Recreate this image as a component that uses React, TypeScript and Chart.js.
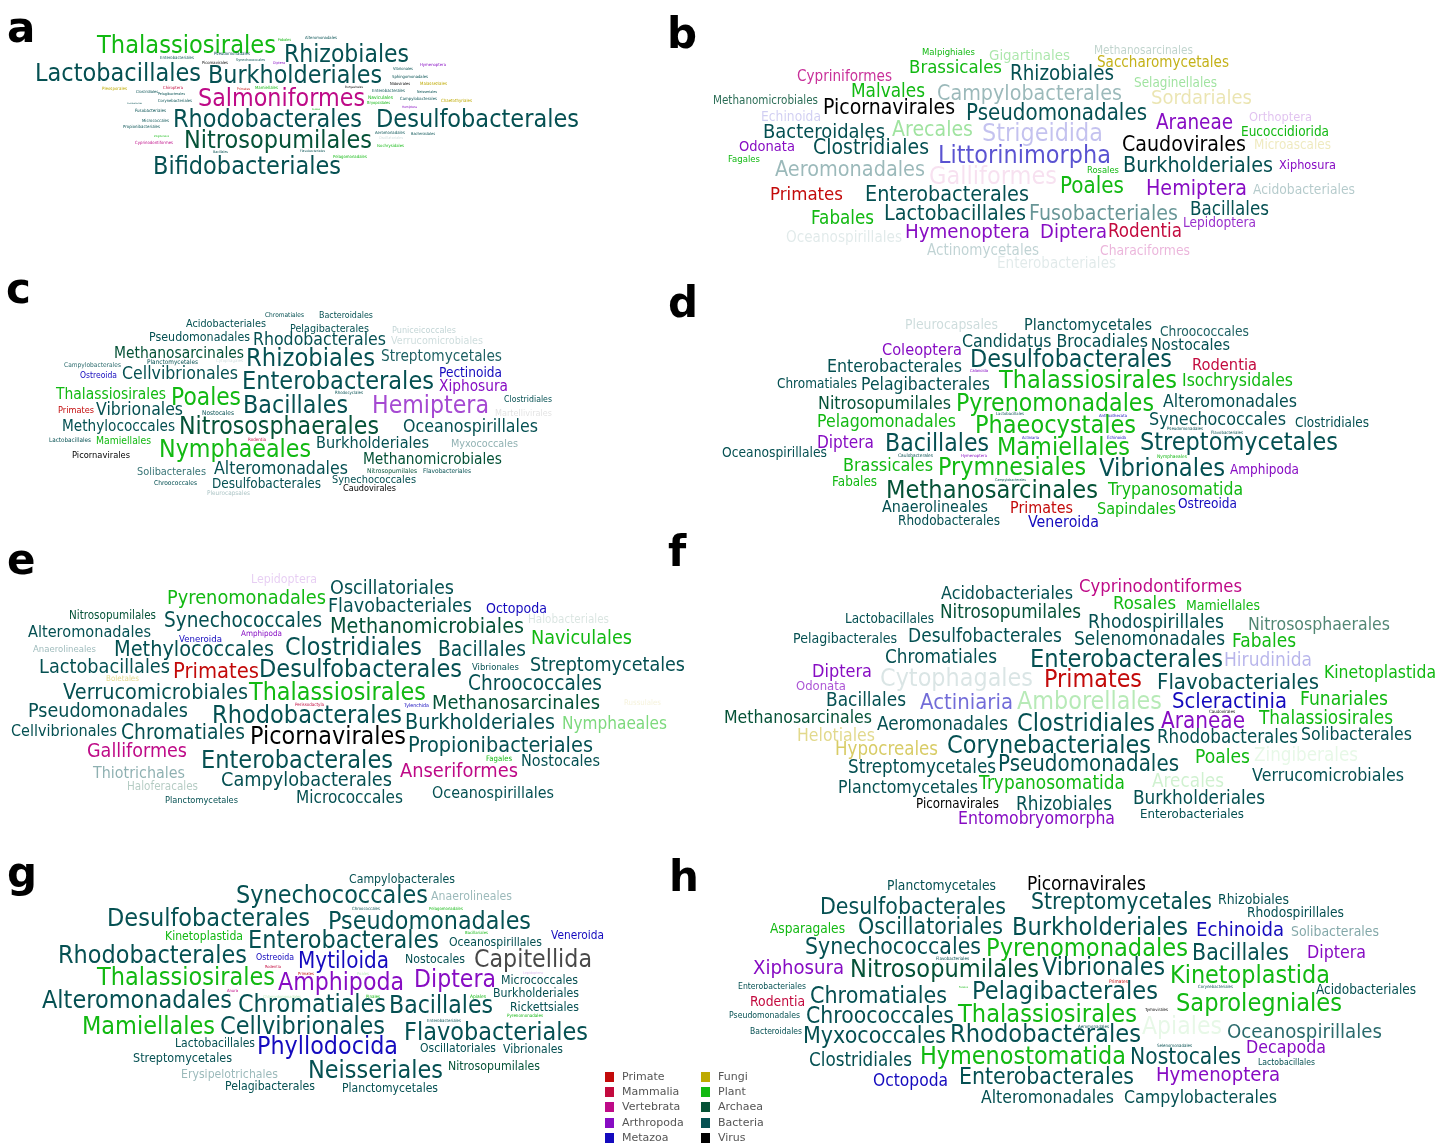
import React, { useEffect, useRef } from "react";
import { Chart, registerables } from "chart.js";
Chart.register(...registerables);

// [label, xStart, xEnd, baseline, group, opacity]
type Word = [string, number, number, number, string, number?];

const groups = ["Primate", "Mammalia", "Vertebrata", "Arthropoda", "Metazoa", "Fungi", "Plant", "Archaea", "Bacteria", "Virus"];
const groupRGB: Record<string, number[]> = {
  Pri: [195, 10, 10], Mam: [195, 10, 62], Ver: [190, 10, 135], Art: [135, 12, 195], Met: [20, 10, 190],
  Fun: [190, 170, 0], Pla: [18, 185, 18], Arc: [5, 82, 55], Bac: [5, 80, 82], Vir: [0, 0, 0],
};
const legendKeys = ["Pri", "Mam", "Ver", "Art", "Met", "Fun", "Pla", "Arc", "Bac", "Vir"];

const wordsA: Word[] = [
  ["Thalassiosirales", 97, 276, 53, "Pla"], ["Rhizobiales", 284, 409, 62, "Bac"], ["Lactobacillales", 35, 201, 81, "Bac"],
  ["Burkholderiales", 208, 382, 83, "Bac"], ["Salmoniformes", 198, 365, 106, "Ver"], ["Rhodobacterales", 173, 362, 127, "Bac"],
  ["Desulfobacterales", 376, 579, 127, "Bac"], ["Nitrosopumilales", 184, 372, 148, "Arc"], ["Bifidobacteriales", 153, 341, 174, "Bac"],
  ["Fabales", 278, 291, 41, "Pla"], ["Alteromonadales", 305, 337, 39, "Bac"], ["Enterobacteriales", 160, 194, 59, "Bac"],
  ["Pseudomonadales", 214, 250, 55, "Bac"], ["Synechococcales", 236, 265, 61, "Bac"], ["Picornavirales", 202, 228, 64, "Vir"],
  ["Diptera", 273, 285, 64, "Art"], ["Vibrionales", 393, 413, 70, "Bac"], ["Hymenoptera", 420, 446, 66, "Art"],
  ["Sphingomonadales", 392, 428, 78, "Bac"], ["Nidovirales", 390, 410, 85, "Vir"], ["Malasseziales", 420, 447, 85, "Fun"],
  ["Pleosporales", 102, 127, 90, "Fun"], ["Chiroptera", 163, 183, 89, "Mam"], ["Primates", 237, 250, 90, "Pri"],
  ["Mamiellales", 255, 278, 89, "Pla"], ["Clostridiales", 136, 158, 93, "Bac"], ["Pelagibacterales", 158, 185, 95, "Bac"],
  ["Bunyavirales", 345, 363, 88, "Vir"], ["Enterobacterales", 372, 405, 92, "Bac"], ["Neisseriales", 417, 437, 93, "Bac"],
  ["Caulobacterales", 127, 142, 104, "Bac"], ["Corynebacteriales", 158, 192, 102, "Bac"], ["Naviculales", 368, 393, 99, "Pla"],
  ["Campylobacterales", 400, 437, 100, "Bac"], ["Chaetothyriales", 441, 472, 102, "Fun"], ["Bryopsidales", 367, 390, 104, "Pla"],
  ["Fusobacteriales", 135, 166, 112, "Bac"], ["Rosales", 312, 320, 110, "Pla"], ["Hemiptera", 402, 417, 108, "Art"],
  ["Micrococcales", 142, 169, 122, "Bac"], ["Propionibacteriales", 123, 160, 128, "Bac"], ["Aeromonadales", 375, 405, 134, "Bac"],
  ["Bacteroidales", 411, 435, 135, "Bac"], ["Oscillatoriales", 379, 403, 139, "Bac", 0.2], ["Zingiberales", 154, 169, 137, "Pla"],
  ["Cyprinodontiformes", 135, 173, 144, "Ver"], ["Isochrysidales", 377, 404, 147, "Pla"], ["Flavobacteriales", 300, 325, 152, "Bac"],
  ["Bacillales", 213, 228, 153, "Bac"], ["Pelagomonadales", 333, 367, 158, "Pla"],
];

const wordsB: Word[] = [
  ["Malpighiales", 922, 975, 55, "Pla"], ["Gigartinales", 989, 1070, 60, "Pla", 0.35], ["Methanosarcinales", 1094, 1193, 54, "Arc", 0.25],
  ["Brassicales", 909, 1002, 73, "Pla"], ["Saccharomycetales", 1097, 1229, 67, "Fun", 0.9], ["Cypriniformes", 797, 892, 81, "Ver", 0.85],
  ["Rhizobiales", 1010, 1114, 80, "Bac"], ["Selaginellales", 1134, 1217, 87, "Pla", 0.4], ["Malvales", 851, 925, 97, "Pla"],
  ["Campylobacterales", 937, 1122, 100, "Bac", 0.4], ["Sordariales", 1151, 1252, 104, "Fun", 0.3], ["Methanomicrobiales", 713, 818, 104, "Arc", 0.85],
  ["Picornavirales", 823, 955, 114, "Vir"], ["Pseudomonadales", 966, 1147, 120, "Bac"], ["Echinoida", 761, 821, 121, "Met", 0.2],
  ["Orthoptera", 1249, 1312, 121, "Art", 0.25], ["Araneae", 1156, 1233, 129, "Art"], ["Bacteroidales", 763, 885, 138, "Bac"],
  ["Arecales", 892, 973, 136, "Pla", 0.4], ["Strigeidida", 982, 1103, 141, "Met", 0.25], ["Eucoccidiorida", 1241, 1329, 136, "Pla"],
  ["Odonata", 739, 795, 151, "Art"], ["Clostridiales", 813, 929, 154, "Bac"], ["Littorinimorpha", 938, 1111, 163, "Met", 0.7],
  ["Caudovirales", 1122, 1246, 151, "Vir"], ["Microascales", 1254, 1331, 149, "Fun", 0.25], ["Fagales", 728, 760, 162, "Pla"],
  ["Aeromonadales", 775, 925, 176, "Bac", 0.4], ["Galliformes", 929, 1057, 184, "Ver", 0.12], ["Rosales", 1087, 1119, 173, "Pla"],
  ["Burkholderiales", 1123, 1273, 172, "Bac"], ["Xiphosura", 1279, 1336, 169, "Art"], ["Poales", 1060, 1124, 193, "Pla"],
  ["Primates", 770, 843, 200, "Pri"], ["Enterobacterales", 865, 1029, 201, "Bac"], ["Hemiptera", 1146, 1247, 195, "Art"],
  ["Acidobacteriales", 1253, 1355, 194, "Bac", 0.3], ["Fabales", 811, 874, 224, "Pla"], ["Lactobacillales", 884, 1026, 220, "Bac"],
  ["Fusobacteriales", 1029, 1178, 220, "Bac", 0.6], ["Bacillales", 1190, 1269, 215, "Bac"], ["Lepidoptera", 1183, 1256, 227, "Art", 0.85],
  ["Oceanospirillales", 786, 902, 242, "Bac", 0.12], ["Hymenoptera", 905, 1030, 238, "Art"], ["Diptera", 1040, 1107, 238, "Art"],
  ["Rodentia", 1108, 1182, 237, "Mam"], ["Actinomycetales", 927, 1039, 255, "Bac", 0.25], ["Characiformes", 1100, 1190, 255, "Ver", 0.3],
  ["Enterobacteriales", 997, 1116, 268, "Bac", 0.12],
];

const wordsC: Word[] = [
  ["Chromatiales", 265, 304, 317, "Bac"], ["Bacteroidales", 319, 373, 318, "Bac"], ["Acidobacteriales", 186, 266, 327, "Bac"],
  ["Pelagibacterales", 290, 369, 332, "Bac"], ["Puniceicoccales", 392, 456, 333, "Bac", 0.25], ["Pseudomonadales", 149, 250, 341, "Bac"],
  ["Rhodobacterales", 253, 386, 345, "Bac"], ["Verrucomicrobiales", 391, 483, 344, "Bac", 0.2], ["Methanosarcinales", 114, 244, 358, "Arc"],
  ["Rhizobiales", 246, 375, 366, "Bac"], ["Streptomycetales", 381, 502, 361, "Bac", 0.9], ["Campylobacterales", 64, 121, 367, "Bac", 0.85],
  ["Planctomycetales", 147, 198, 364, "Bac"], ["Cytophagales", 216, 243, 362, "Bac", 0.2], ["Ostreoida", 80, 117, 378, "Met"],
  ["Cellvibrionales", 122, 238, 379, "Bac"], ["Enterobacterales", 242, 434, 389, "Bac"], ["Pectinoida", 439, 502, 377, "Met"],
  ["Xiphosura", 439, 508, 391, "Art"], ["Thalassiosirales", 56, 166, 399, "Pla"], ["Poales", 171, 241, 405, "Pla"],
  ["Rhodocyclales", 335, 363, 394, "Bac"], ["Bacillales", 243, 348, 413, "Bac"], ["Hemiptera", 372, 489, 413, "Art", 0.75],
  ["Clostridiales", 504, 552, 402, "Bac"], ["Primates", 58, 94, 413, "Pri"], ["Vibrionales", 96, 183, 415, "Bac"],
  ["Nostocales", 202, 234, 415, "Bac"], ["Martellivirales", 495, 552, 416, "Vir", 0.12], ["Methylococcales", 62, 175, 431, "Bac"],
  ["Nitrososphaerales", 179, 379, 434, "Arc"], ["Oceanospirillales", 403, 538, 432, "Bac"], ["Lactobacillales", 49, 91, 442, "Bac"],
  ["Mamiellales", 96, 151, 444, "Pla"], ["Rodentia", 248, 266, 441, "Mam"], ["Nymphaeales", 159, 311, 457, "Pla"],
  ["Burkholderiales", 316, 429, 448, "Bac"], ["Myxococcales", 451, 518, 447, "Bac", 0.45], ["Picornavirales", 72, 130, 458, "Vir"],
  ["Methanomicrobiales", 363, 502, 464, "Arc"], ["Solibacterales", 137, 206, 475, "Bac", 0.8], ["Alteromonadales", 214, 348, 474, "Bac"],
  ["Nitrosopumilales", 367, 417, 473, "Arc"], ["Flavobacteriales", 423, 471, 473, "Bac"], ["Chroococcales", 154, 197, 485, "Bac"],
  ["Desulfobacterales", 212, 321, 488, "Bac"], ["Synechococcales", 332, 416, 483, "Bac"], ["Caudovirales", 343, 396, 491, "Vir"],
  ["Pleurocapsales", 207, 250, 495, "Bac", 0.35],
];

const wordsD: Word[] = [
  ["Pleurocapsales", 905, 998, 329, "Bac", 0.2], ["Planctomycetales", 1024, 1152, 330, "Bac"], ["Chroococcales", 1160, 1249, 336, "Bac", 0.9],
  ["Candidatus Brocadiales", 962, 1148, 347, "Bac"], ["Nostocales", 1151, 1230, 350, "Bac"], ["Coleoptera", 882, 962, 355, "Art"],
  ["Desulfobacterales", 970, 1172, 367, "Bac"], ["Enterobacterales", 827, 962, 372, "Bac"], ["Rodentia", 1192, 1257, 370, "Mam"],
  ["Calanoida", 970, 988, 372, "Art"], ["Chromatiales", 777, 857, 388, "Bac"], ["Pelagibacterales", 861, 990, 390, "Bac"],
  ["Thalassiosirales", 999, 1177, 388, "Pla"], ["Isochrysidales", 1182, 1293, 386, "Pla"], ["Nitrosopumilales", 818, 951, 409, "Arc"],
  ["Pyrenomonadales", 956, 1154, 411, "Pla"], ["Alteromonadales", 1163, 1297, 407, "Bac"], ["Lactobacillales", 996, 1024, 415, "Bac"],
  ["Anthoathecata", 1099, 1127, 417, "Met"], ["Pelagomonadales", 817, 956, 427, "Pla"], ["Phaeocystales", 975, 1136, 433, "Pla"],
  ["Synechococcales", 1149, 1286, 425, "Bac"], ["Clostridiales", 1295, 1369, 427, "Bac"], ["Pseudomonadales", 1167, 1203, 430, "Bac"],
  ["Flavobacteriales", 1211, 1243, 434, "Bac"], ["Diptera", 817, 874, 448, "Art"], ["Bacillales", 885, 989, 451, "Bac"],
  ["Actiniaria", 1022, 1039, 439, "Met"], ["Echinoida", 1107, 1126, 439, "Met"], ["Mamiellales", 997, 1130, 455, "Pla"],
  ["Streptomycetales", 1140, 1338, 450, "Bac"], ["Oceanospirillales", 722, 827, 457, "Bac"], ["Caulobacterales", 898, 933, 457, "Bac"],
  ["Hymenoptera", 961, 987, 457, "Art"], ["Nymphaeales", 1157, 1187, 458, "Pla"], ["Brassicales", 843, 933, 471, "Pla"],
  ["Prymnesiales", 938, 1086, 475, "Pla"], ["Vibrionales", 1099, 1225, 476, "Bac"], ["Amphipoda", 1230, 1299, 474, "Art"],
  ["Fabales", 832, 877, 486, "Pla"], ["Campylobacterales", 995, 1026, 481, "Bac"], ["Methanosarcinales", 886, 1098, 498, "Arc"],
  ["Trypanosomatida", 1108, 1243, 495, "Pla"], ["Anaerolineales", 882, 988, 512, "Bac"], ["Primates", 1010, 1073, 513, "Pri"],
  ["Sapindales", 1097, 1176, 514, "Pla"], ["Ostreoida", 1178, 1237, 508, "Met"], ["Rhodobacterales", 898, 1000, 525, "Bac"],
  ["Veneroida", 1028, 1099, 527, "Met"],
];

const wordsE: Word[] = [
  ["Lepidoptera", 251, 317, 583, "Art", 0.2], ["Oscillatoriales", 330, 454, 594, "Bac"], ["Pyrenomonadales", 167, 326, 604, "Pla"],
  ["Flavobacteriales", 328, 472, 612, "Bac"], ["Octopoda", 486, 547, 613, "Met"], ["Nitrosopumilales", 69, 156, 619, "Arc"],
  ["Synechococcales", 164, 322, 627, "Bac"], ["Halobacteriales", 528, 609, 623, "Arc", 0.15], ["Methanomicrobiales", 330, 524, 633, "Arc"],
  ["Alteromonadales", 28, 151, 637, "Bac"], ["Veneroida", 179, 222, 642, "Met"], ["Amphipoda", 241, 282, 636, "Art"],
  ["Naviculales", 531, 632, 644, "Pla"], ["Anaerolineales", 33, 96, 652, "Bac", 0.4], ["Methylococcales", 114, 274, 656, "Bac"],
  ["Clostridiales", 285, 422, 655, "Bac"], ["Bacillales", 438, 526, 656, "Bac"], ["Lactobacillales", 39, 170, 673, "Bac"],
  ["Primates", 173, 259, 678, "Pri"], ["Desulfobacterales", 259, 462, 677, "Bac"], ["Vibrionales", 472, 519, 670, "Bac"],
  ["Streptomycetales", 530, 685, 671, "Bac"], ["Boletales", 106, 139, 681, "Fun", 0.45], ["Chroococcales", 468, 602, 690, "Bac"],
  ["Verrucomicrobiales", 63, 248, 699, "Bac"], ["Thalassiosirales", 249, 426, 700, "Pla"], ["Methanosarcinales", 432, 600, 709, "Arc"],
  ["Russulales", 624, 661, 705, "Fun", 0.15], ["Perissodactyla", 295, 324, 706, "Mam"], ["Tylenchida", 404, 429, 707, "Met"],
  ["Pseudomonadales", 28, 188, 717, "Bac"], ["Rhodobacterales", 212, 402, 723, "Bac"], ["Burkholderiales", 405, 555, 729, "Bac"],
  ["Nymphaeales", 562, 667, 729, "Pla", 0.55], ["Cellvibrionales", 11, 117, 736, "Bac"], ["Chromatiales", 121, 245, 739, "Bac"],
  ["Picornavirales", 250, 406, 744, "Vir"], ["Galliformes", 87, 187, 757, "Ver"], ["Propionibacteriales", 408, 593, 752, "Bac"],
  ["Enterobacterales", 201, 393, 768, "Bac"], ["Fagales", 486, 512, 761, "Pla"], ["Nostocales", 521, 600, 766, "Bac"],
  ["Anseriformes", 400, 518, 777, "Ver"], ["Thiotrichales", 93, 185, 778, "Bac", 0.45], ["Campylobacterales", 221, 392, 786, "Bac"],
  ["Haloferacales", 127, 198, 790, "Arc", 0.3], ["Planctomycetales", 165, 238, 803, "Bac"], ["Micrococcales", 296, 403, 803, "Bac"],
  ["Oceanospirillales", 432, 554, 798, "Bac"],
];

const wordsF: Word[] = [
  ["Acidobacteriales", 941, 1073, 599, "Bac"], ["Cyprinodontiformes", 1079, 1242, 592, "Ver"], ["Rosales", 1113, 1176, 609, "Pla"],
  ["Mamiellales", 1186, 1260, 610, "Pla"], ["Lactobacillales", 845, 934, 623, "Bac"], ["Nitrosopumilales", 940, 1081, 618, "Arc"],
  ["Rhodospirillales", 1088, 1224, 628, "Bac"], ["Nitrososphaerales", 1248, 1390, 630, "Arc", 0.7], ["Pelagibacterales", 793, 897, 643, "Bac"],
  ["Desulfobacterales", 908, 1062, 642, "Bac"], ["Selenomonadales", 1074, 1225, 645, "Bac"], ["Fabales", 1232, 1296, 647, "Pla"],
  ["Chromatiales", 885, 997, 663, "Bac"], ["Enterobacterales", 1030, 1223, 667, "Bac"], ["Hirudinida", 1224, 1312, 666, "Met", 0.3],
  ["Diptera", 812, 872, 677, "Art"], ["Cytophagales", 880, 1033, 686, "Bac", 0.15], ["Primates", 1044, 1142, 687, "Pri"],
  ["Flavobacteriales", 1157, 1319, 689, "Bac"], ["Kinetoplastida", 1324, 1436, 678, "Pla"], ["Odonata", 796, 846, 690, "Art", 0.7],
  ["Bacillales", 826, 906, 706, "Bac"], ["Actiniaria", 920, 1013, 709, "Met", 0.6], ["Amborellales", 1017, 1162, 709, "Pla", 0.3],
  ["Scleractinia", 1172, 1287, 708, "Met"], ["Funariales", 1300, 1388, 705, "Pla"], ["Methanosarcinales", 724, 872, 723, "Arc"],
  ["Caudovirales", 1209, 1235, 713, "Vir"], ["Aeromonadales", 877, 1008, 730, "Bac"], ["Clostridiales", 1017, 1155, 731, "Bac"],
  ["Araneae", 1161, 1245, 728, "Art"], ["Thalassiosirales", 1259, 1393, 724, "Pla"], ["Helotiales", 797, 875, 741, "Fun", 0.45],
  ["Rhodobacterales", 1157, 1298, 743, "Bac"], ["Solibacterales", 1301, 1412, 740, "Bac"], ["Hypocreales", 835, 938, 755, "Fun", 0.6],
  ["Corynebacteriales", 947, 1151, 753, "Bac"], ["Poales", 1195, 1250, 763, "Pla"], ["Zingiberales", 1254, 1358, 761, "Pla", 0.1],
  ["Streptomycetales", 848, 996, 773, "Bac"], ["Pseudomonadales", 998, 1179, 771, "Bac"], ["Trypanosomatida", 979, 1125, 789, "Pla"],
  ["Arecales", 1152, 1224, 787, "Pla", 0.2], ["Verrucomicrobiales", 1252, 1404, 781, "Bac"], ["Planctomycetales", 838, 978, 793, "Bac"],
  ["Picornavirales", 916, 999, 808, "Vir"], ["Rhizobiales", 1016, 1112, 810, "Bac"], ["Burkholderiales", 1133, 1265, 804, "Bac"],
  ["Enterobacteriales", 1140, 1244, 818, "Bac"], ["Entomobryomorpha", 958, 1115, 824, "Art"],
];

const wordsG: Word[] = [
  ["Campylobacterales", 349, 455, 883, "Bac"], ["Synechococcales", 236, 428, 903, "Bac"], ["Anaerolineales", 431, 512, 900, "Bac", 0.4],
  ["Chroococcales", 352, 380, 910, "Bac"], ["Pelagomonadales", 429, 463, 910, "Pla"], ["Desulfobacterales", 107, 310, 926, "Bac"],
  ["Pseudomonadales", 328, 531, 929, "Bac"], ["Bacillariales", 465, 488, 934, "Pla"], ["Kinetoplastida", 165, 243, 940, "Pla"],
  ["Enterobacterales", 248, 439, 948, "Bac"], ["Oceanospirillales", 449, 542, 946, "Bac"], ["Veneroida", 551, 604, 939, "Met"],
  ["Rhodobacterales", 58, 247, 963, "Bac"], ["Ostreoida", 256, 294, 960, "Met"], ["Mytiloida", 298, 389, 968, "Met"],
  ["Nostocales", 405, 465, 963, "Bac"], ["Capitellida", 474, 592, 967, "Vir", 0.72], ["Rodentia", 265, 281, 968, "Mam"],
  ["Primates", 298, 314, 975, "Pri"], ["Poales", 357, 369, 975, "Pla", 0.3], ["Lepidoptera", 523, 543, 974, "Art", 0.3],
  ["Thalassiosirales", 97, 275, 985, "Pla"], ["Amphipoda", 278, 404, 990, "Art"], ["Diptera", 414, 496, 987, "Art"],
  ["Micrococcales", 501, 578, 984, "Bac"], ["Anura", 227, 238, 992, "Ver"], ["Chlamydomonadales", 263, 301, 998, "Pla", 0.3],
  ["Pinales", 366, 380, 998, "Pla"], ["Apiales", 470, 486, 998, "Pla"], ["Burkholderiales", 493, 579, 997, "Bac"],
  ["Alteromonadales", 42, 232, 1008, "Bac"], ["Chromatiales", 238, 386, 1012, "Bac"], ["Bacillales", 389, 493, 1013, "Bac"],
  ["Rickettsiales", 510, 579, 1011, "Bac"], ["Pyrenomonadales", 507, 543, 1017, "Pla"], ["Enterobacteriales", 427, 461, 1022, "Bac"],
  ["Mamiellales", 82, 215, 1034, "Pla"], ["Cellvibrionales", 220, 385, 1034, "Bac"], ["Flavobacteriales", 404, 588, 1040, "Bac"],
  ["Lactobacillales", 175, 255, 1047, "Bac"], ["Phyllodocida", 257, 398, 1054, "Met"], ["Oscillatoriales", 420, 496, 1052, "Bac"],
  ["Vibrionales", 503, 563, 1053, "Bac"], ["Streptomycetales", 133, 232, 1062, "Bac"], ["Neisseriales", 308, 443, 1078, "Bac"],
  ["Nitrosopumilales", 448, 540, 1070, "Arc"], ["Erysipelotrichales", 181, 278, 1078, "Bac", 0.4], ["Pelagibacterales", 225, 315, 1090, "Bac"],
  ["Planctomycetales", 342, 438, 1092, "Bac"],
];

const wordsH: Word[] = [
  ["Planctomycetales", 887, 996, 890, "Bac"], ["Picornavirales", 1027, 1146, 890, "Vir"], ["Desulfobacterales", 820, 1006, 914, "Bac"],
  ["Streptomycetales", 1031, 1212, 909, "Bac"], ["Rhizobiales", 1218, 1289, 904, "Bac"], ["Rhodospirillales", 1247, 1344, 917, "Bac"],
  ["Asparagales", 770, 845, 933, "Pla"], ["Oscillatoriales", 858, 1003, 934, "Bac"], ["Burkholderiales", 1012, 1188, 935, "Bac"],
  ["Echinoida", 1196, 1284, 936, "Met"], ["Solibacterales", 1291, 1379, 936, "Bac", 0.5], ["Synechococcales", 805, 981, 954, "Bac"],
  ["Pyrenomonadales", 986, 1188, 956, "Pla"], ["Bacillales", 1192, 1289, 960, "Bac"], ["Diptera", 1307, 1366, 958, "Art"],
  ["Flavobacteriales", 936, 969, 960, "Bac"], ["Xiphosura", 753, 844, 974, "Art"], ["Nitrosopumilales", 850, 1039, 977, "Arc"],
  ["Vibrionales", 1042, 1165, 975, "Bac"], ["Kinetoplastida", 1170, 1330, 983, "Pla"], ["Enterobacteriales", 738, 806, 989, "Bac"],
  ["Fucales", 959, 968, 988, "Pla"], ["Primates", 1109, 1128, 983, "Pri"], ["Corynebacteriales", 1198, 1233, 988, "Bac"],
  ["Acidobacteriales", 1316, 1416, 994, "Bac"], ["Chromatiales", 810, 947, 1003, "Bac"], ["Pelagibacterales", 972, 1158, 999, "Bac"],
  ["Rodentia", 750, 805, 1006, "Mam"], ["Saprolegniales", 1176, 1342, 1011, "Pla"], ["Tymovirales", 1145, 1168, 1011, "Vir"],
  ["Pseudomonadales", 729, 800, 1018, "Bac"], ["Chroococcales", 806, 954, 1023, "Bac"], ["Thalassiosirales", 958, 1137, 1022, "Pla"],
  ["Apiales", 1142, 1222, 1034, "Pla", 0.1], ["Oceanospirillales", 1227, 1382, 1038, "Bac", 0.85], ["Bacteroidales", 750, 802, 1034, "Bac"],
  ["Myxococcales", 803, 946, 1043, "Bac"], ["Rhodobacterales", 950, 1141, 1042, "Bac"], ["Aeromonadales", 1078, 1109, 1028, "Bac"],
  ["Selenomonadales", 1157, 1192, 1047, "Bac"], ["Decapoda", 1246, 1326, 1053, "Art"], ["Clostridiales", 809, 912, 1066, "Bac"],
  ["Hymenostomatida", 920, 1126, 1064, "Pla"], ["Nostocales", 1130, 1241, 1064, "Bac"], ["Lactobacillales", 1258, 1315, 1065, "Bac"],
  ["Octopoda", 873, 948, 1086, "Met"], ["Enterobacterales", 959, 1134, 1084, "Bac"], ["Hymenoptera", 1156, 1280, 1081, "Art"],
  ["Alteromonadales", 981, 1114, 1103, "Bac"], ["Campylobacterales", 1124, 1277, 1103, "Bac"],
];

// panel layout extents: [letter, xMin, xMax, yMin, yMax, words, letterX, letterBaseline]
const panelLetters = ["a", "b", "c", "d", "e", "f", "g", "h"];
const panelWords = [wordsA, wordsB, wordsC, wordsD, wordsE, wordsF, wordsG, wordsH];
const panelX: [number, number][] = [[0, 660], [660, 1439], [0, 660], [660, 1439], [0, 700], [700, 1439], [0, 700], [700, 1439]];
const panelY: [number, number][] = [[0, 280], [0, 280], [280, 545], [280, 545], [545, 850], [545, 850], [850, 1143], [850, 1143]];
const letterPos: [number, number][] = [[7, 41], [667, 47], [6, 302], [668, 316], [7, 573], [668, 565], [7, 886], [669, 890]];

const FONT = '"DejaVu Sans", "Liberation Sans", sans-serif';
const SQUEEZE = 0.9;

const wordPlugin = {
  id: "wordcloudText",
  afterDatasetsDraw(chart: any) {
    const ctx: CanvasRenderingContext2D = chart.ctx;
    const xs = chart.scales.x;
    const ys = chart.scales.y;
    chart.data.datasets.forEach((ds: any) => {
      ds.data.forEach((pt: any) => {
        const left = xs.getPixelForValue(pt.x0);
        const right = xs.getPixelForValue(pt.x1);
        const base = ys.getPixelForValue(pt.y);
        const target = right - left;
        ctx.save();
        ctx.font = `100px ${FONT}`;
        const w100 = ctx.measureText(pt.label).width;
        const fs = (target / (w100 * SQUEEZE)) * 100;
        ctx.font = `${fs.toFixed(2)}px ${FONT}`;
        const w = ctx.measureText(pt.label).width;
        ctx.translate(left, base);
        ctx.scale(target / w, 1);
        ctx.textBaseline = "alphabetic";
        ctx.textAlign = "left";
        const c = groupRGB[pt.group];
        ctx.fillStyle = `rgba(${c[0]},${c[1]},${c[2]},${pt.alpha})`;
        ctx.fillText(pt.label, 0, 0);
        ctx.restore();
      });
    });
  },
};

function Panel({ idx }: { idx: number }) {
  const ref = useRef<HTMLCanvasElement>(null);
  const [x0, x1] = panelX[idx];
  const [y0, y1] = panelY[idx];
  useEffect(() => {
    if (!ref.current) return;
    const words = panelWords[idx];
    const chart = new Chart(ref.current, {
      type: "scatter",
      data: {
        datasets: [
          {
            data: words.map((w) => ({
              x: (w[1] + w[2]) / 2, y: w[3], x0: w[1], x1: w[2], label: w[0], group: w[4], alpha: w[5] ?? 1,
            })) as any,
            pointRadius: 0,
            pointHoverRadius: 0,
          },
        ],
      },
      options: {
        animation: false,
        responsive: false,
        maintainAspectRatio: false,
        events: [],
        layout: { padding: 0 },
        plugins: { legend: { display: false }, tooltip: { enabled: false } },
        scales: {
          x: { type: "linear", min: x0, max: x1, display: false },
          y: { type: "linear", min: y0, max: y1, reverse: true, display: false },
        },
      },
      plugins: [wordPlugin],
    });
    return () => chart.destroy();
  }, [idx]);
  return (
    <canvas
      ref={ref}
      width={x1 - x0}
      height={y1 - y0}
      style={{ position: "absolute", left: x0, top: y0, width: x1 - x0, height: y1 - y0 }}
    />
  );
}

export default function App() {
  const letterSize = 42;
  return (
    <div style={{ position: "absolute", left: 0, top: 0, width: 1439, height: 1143, background: "#fff", overflow: "hidden" }}>
      {panelLetters.map((_, i) => (
        <Panel key={i} idx={i} />
      ))}
      {panelLetters.map((l, i) => (
        <div
          key={"l" + l}
          style={{
            position: "absolute",
            left: letterPos[i][0],
            top: letterPos[i][1] - letterSize * 0.806,
            fontFamily: FONT,
            fontWeight: "bold",
            fontSize: letterSize,
            lineHeight: `${letterSize}px`,
            color: "#000",
          }}
        >
          {l}
        </div>
      ))}
      <div style={{ position: "absolute", left: 604, top: 1070, fontFamily: FONT, fontSize: 11, color: "#555" }}>
        {legendKeys.map((k, i) => {
          const col = Math.floor(i / 5);
          const row = i % 5;
          const c = groupRGB[k];
          return (
            <div key={k} style={{ position: "absolute", left: col * 96, top: row * 15.2, width: 90, height: 14, whiteSpace: "nowrap" }}>
              <span style={{ position: "absolute", left: 1, top: 2, width: 9, height: 10, background: `rgb(${c[0]},${c[1]},${c[2]})` }} />
              <span style={{ position: "absolute", left: 18, top: 0, lineHeight: "14px" }}>{groups[i]}</span>
            </div>
          );
        })}
      </div>
    </div>
  );
}
